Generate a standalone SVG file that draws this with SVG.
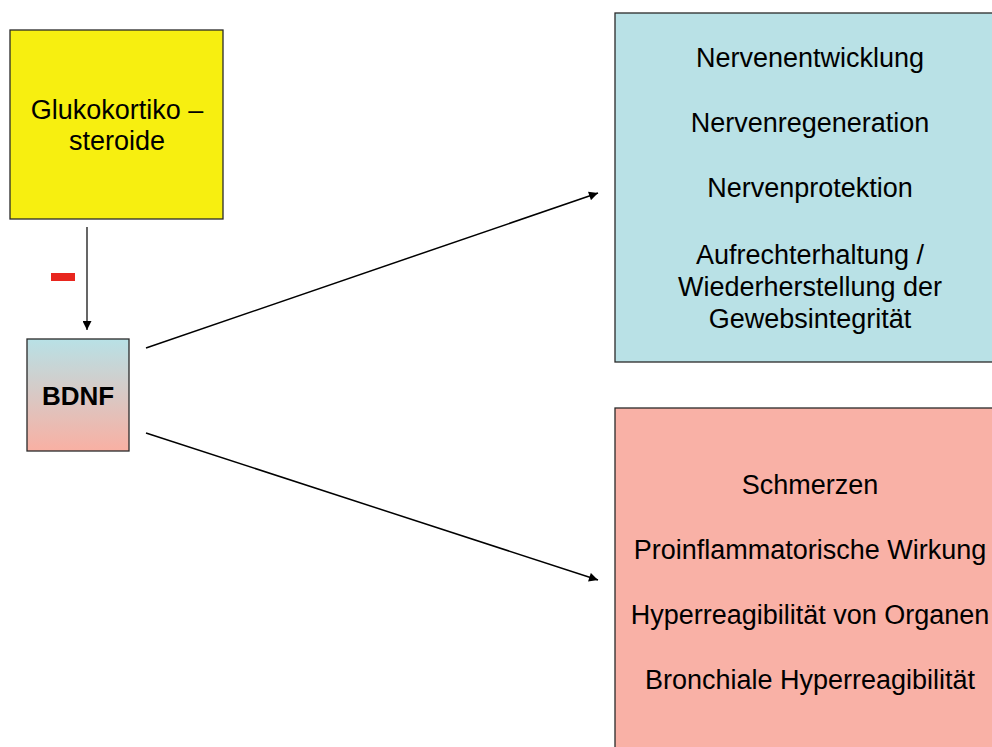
<svg xmlns="http://www.w3.org/2000/svg" width="992" height="747" viewBox="0 0 992 747">
<style>
text{font-family:"Liberation Sans",Arial,sans-serif;font-size:27px;fill:#000;text-anchor:middle}
.box{stroke:#2a2a2a;stroke-width:1.3}
.conn{stroke:#000;stroke-width:1.5;fill:none;marker-end:url(#arr)}
</style>
<defs>
<marker id="arr" viewBox="0 0 10 10" refX="10" refY="5" markerWidth="10" markerHeight="9" markerUnits="userSpaceOnUse" orient="auto">
<path d="M0,0 L10,5 L0,10 z" fill="#000"/>
</marker>
<linearGradient id="bg" x1="0" y1="0" x2="0" y2="1">
<stop offset="0" stop-color="#b8e1e6"/>
<stop offset="1" stop-color="#f9b0a3"/>
</linearGradient>
</defs>
<rect width="992" height="747" fill="#fff"/>
<g id="glukokortikosteroide">
<rect class="box" x="10" y="30" width="213" height="189" fill="#f7ef10"/>
<text x="117" y="119">Glukokortiko –</text>
<text x="117" y="150">steroide</text>
</g>
<g id="bdnf">
<rect class="box" x="27" y="339" width="102" height="112" fill="url(#bg)"/>
<text x="78" y="405" style="font-weight:bold;font-size:26px">BDNF</text>
</g>
<g id="positive">
<rect class="box" x="615" y="13" width="390" height="349" fill="#b9e1e6"/>
<text x="810" y="67">Nervenentwicklung</text>
<text x="810" y="132">Nervenregeneration</text>
<text x="810" y="197">Nervenprotektion</text>
<text x="810" y="264">Aufrechterhaltung /</text>
<text x="810" y="296">Wiederherstellung der</text>
<text x="810" y="328">Gewebsintegrität</text>
</g>
<g id="negative">
<rect class="box" x="615" y="408" width="390" height="350" fill="#f9b1a6"/>
<text x="810" y="494">Schmerzen</text>
<text x="810" y="559">Proinflammatorische Wirkung</text>
<text x="810" y="624">Hyperreagibilität von Organen</text>
<text x="810" y="689">Bronchiale Hyperreagibilität</text>
</g>
<g id="connectors">
<line class="conn" x1="87" y1="227" x2="87" y2="330" style="stroke-width:1.2"/>
<rect x="51" y="273" width="24" height="8" fill="#e8261e"/>
<line class="conn" x1="146" y1="348" x2="598" y2="193"/>
<line class="conn" x1="146" y1="433" x2="598" y2="580"/>
</g>
</svg>
